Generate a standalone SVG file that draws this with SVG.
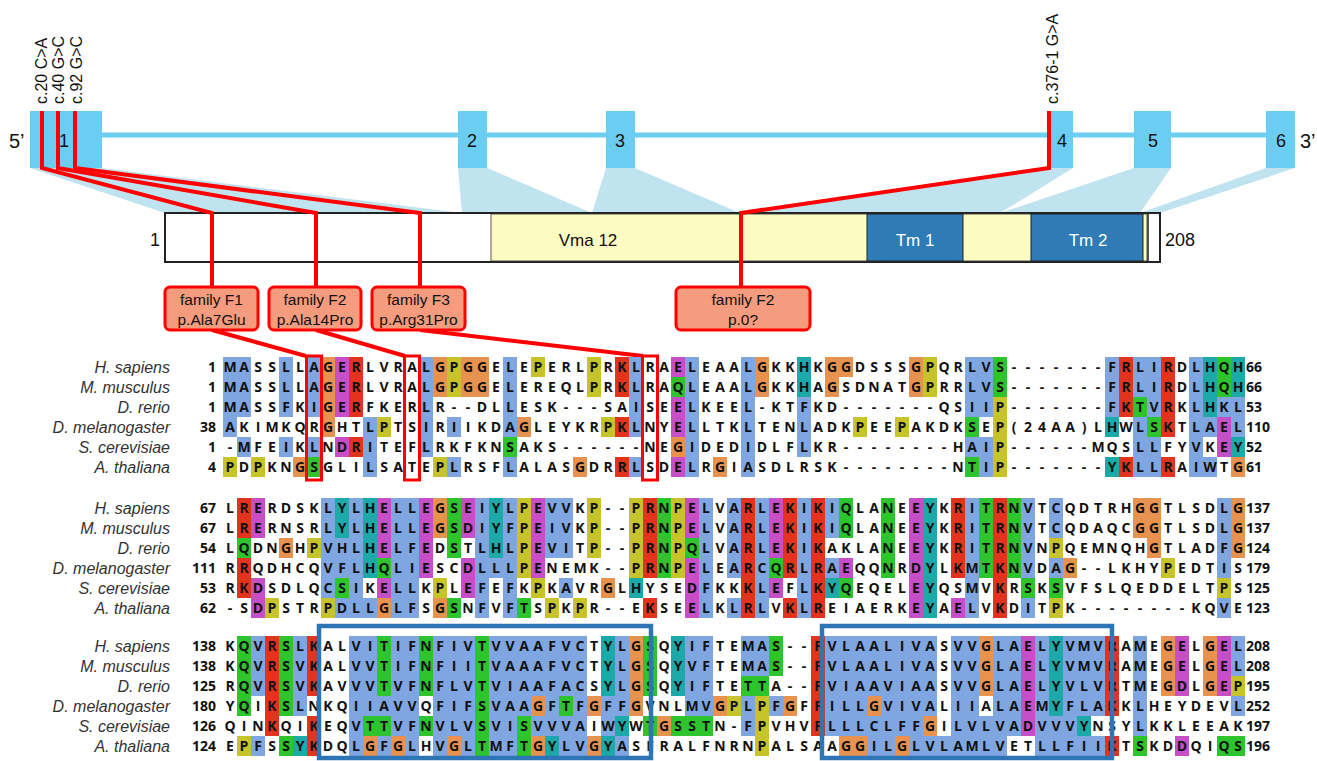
<svg xmlns="http://www.w3.org/2000/svg" width="1317" height="761" viewBox="0 0 1317 761">
<style>
.lbl{font-family:"Liberation Sans",Arial,sans-serif;fill:#111}
.res{font-family:"Open Sans","DejaVu Sans",sans-serif;font-weight:700;font-size:14px;text-anchor:middle;fill:#111}
.nl{font-family:"Open Sans","DejaVu Sans",sans-serif;font-weight:700;font-size:14px;text-anchor:end;fill:#111}
.nr{font-family:"Open Sans","DejaVu Sans",sans-serif;font-weight:700;font-size:14px;text-anchor:start;fill:#111}
.sp{font-family:"Liberation Sans",Arial,sans-serif;font-style:italic;font-size:16px;text-anchor:end;fill:#333}
.B{fill:#80a6e2}.R{fill:#e2331f}.M{fill:#c64ec6}.G{fill:#2ec42e}.O{fill:#e8924f}.Y{fill:#c6c42a}.C{fill:#1ea9a9}
.exon{fill:#6ccdf2}
.wedge{fill:#bfe3ef}
.red{fill:none;stroke:#ff0000;stroke-width:4}
.fam{fill:#f59c7e;stroke:#ff0000;stroke-width:3}
.rbox{fill:none;stroke:#ff0000;stroke-width:3}
.bbox{fill:none;stroke:#2e75b6;stroke-width:4.5}
</style>

<g id="gene">
<polygon class="wedge" points="30,168 102,168 462,213 165,213"/>
<polygon class="wedge" points="458,168 487,168 592,213 462,213"/>
<polygon class="wedge" points="606,168 635,168 740,213 592,213"/>
<polygon class="wedge" points="1050,168 1073,168 1000,213 740,213"/>
<polygon class="wedge" points="1134,168 1171,168 1140,213 1000,213"/>
<polygon class="wedge" points="1266,168 1295,168 1160,213 1140,213"/>
<line x1="100" y1="135" x2="1268" y2="135" stroke="#6ccdf2" stroke-width="5"/>
<rect class="exon" x="30" y="111" width="72" height="57"/>
<rect class="exon" x="458" y="111" width="29" height="57"/>
<rect class="exon" x="606" y="111" width="29" height="57"/>
<rect class="exon" x="1050" y="111" width="23" height="57"/>
<rect class="exon" x="1134" y="111" width="37" height="57"/>
<rect class="exon" x="1266" y="111" width="29" height="57"/>
<g class="lbl" font-size="18" text-anchor="middle">
<text x="64" y="147">1</text><text x="472" y="147">2</text><text x="620" y="147">3</text>
<text x="1062" y="147">4</text><text x="1153" y="147">5</text><text x="1281" y="147">6</text>
</g>
<text class="lbl" x="9" y="148" font-size="20">5’</text>
<text class="lbl" x="1300" y="148" font-size="20">3’</text>
</g>

<g id="protein">
<rect x="165" y="213" width="995" height="49" fill="#fff" stroke="#222" stroke-width="2"/>
<rect x="491" y="214" width="656" height="47" fill="#fcfbc2" stroke="#333" stroke-width="0.8"/>
<rect x="867" y="214" width="96" height="47" fill="#2e7bb6" stroke="#222" stroke-width="1"/>
<rect x="1031" y="214" width="112" height="47" fill="#2e7bb6" stroke="#222" stroke-width="1"/>
<line x1="1148" y1="214" x2="1148" y2="261" stroke="#222" stroke-width="1.5"/>
<text class="lbl" x="588" y="246" font-size="17" text-anchor="middle">Vma 12</text>
<text class="lbl" x="915" y="246" font-size="17" text-anchor="middle" style="fill:#fff">Tm 1</text>
<text class="lbl" x="1088" y="246" font-size="17" text-anchor="middle" style="fill:#fff">Tm 2</text>
<text class="lbl" x="160" y="246" font-size="18" text-anchor="end">1</text>
<text class="lbl" x="1165" y="246" font-size="18">208</text>
</g>

<g id="connectors">
<path class="red" d="M42 111V168L212 213V287"/>
<path class="red" d="M58 111V168L316 213V287"/>
<path class="red" d="M75 111V168L420 213V287"/>
<path class="red" d="M1049 111V168L741 213V287"/>
<path class="red" d="M212 330L306 356"/>
<path class="red" d="M316 330L405 356"/>
<path class="red" d="M420 330L643 356"/>
</g>

<g id="mutations" class="lbl" font-size="16">
<text transform="translate(47,104) rotate(-90)">c.20 C&gt;A</text>
<text transform="translate(64,104) rotate(-90)">c.40 G&gt;C</text>
<text transform="translate(82,104) rotate(-90)">c.92 G&gt;C</text>
<text transform="translate(1058,104) rotate(-90)">c.376-1 G&gt;A</text>
</g>

<g id="family-F1"><rect class="fam" x="165" y="287" width="93" height="43" rx="5"/>
<text class="lbl" x="211.5" y="305" font-size="15.5" text-anchor="middle">family F1</text>
<text class="lbl" x="211.5" y="325" font-size="15.5" text-anchor="middle">p.Ala7Glu</text></g>
<g id="family-F2a"><rect class="fam" x="269" y="287" width="92" height="43" rx="5"/>
<text class="lbl" x="315" y="305" font-size="15.5" text-anchor="middle">family F2</text>
<text class="lbl" x="315" y="325" font-size="15.5" text-anchor="middle">p.Ala14Pro</text></g>
<g id="family-F3"><rect class="fam" x="372" y="287" width="93" height="43" rx="5"/>
<text class="lbl" x="418.5" y="305" font-size="15.5" text-anchor="middle">family F3</text>
<text class="lbl" x="418.5" y="325" font-size="15.5" text-anchor="middle">p.Arg31Pro</text></g>
<g id="family-F2b"><rect class="fam" x="676" y="287" width="134" height="43" rx="5"/>
<text class="lbl" x="743" y="305" font-size="15.5" text-anchor="middle">family F2</text>
<text class="lbl" x="743" y="325" font-size="15.5" text-anchor="middle">p.0?</text></g>

<g id="species">
<text class="sp" x="170" y="373">H. sapiens</text><text class="sp" x="170" y="393">M. musculus</text><text class="sp" x="170" y="413">D. rerio</text><text class="sp" x="170" y="433">D. melanogaster</text><text class="sp" x="170" y="453">S. cerevisiae</text><text class="sp" x="170" y="473">A. thaliana</text>
<text class="sp" x="170" y="514">H. sapiens</text><text class="sp" x="170" y="534">M. musculus</text><text class="sp" x="170" y="554">D. rerio</text><text class="sp" x="170" y="574">D. melanogaster</text><text class="sp" x="170" y="594">S. cerevisiae</text><text class="sp" x="170" y="614">A. thaliana</text>
<text class="sp" x="170" y="652">H. sapiens</text><text class="sp" x="170" y="672">M. musculus</text><text class="sp" x="170" y="692">D. rerio</text><text class="sp" x="170" y="712">D. melanogaster</text><text class="sp" x="170" y="732">S. cerevisiae</text><text class="sp" x="170" y="752">A. thaliana</text>
</g>

<g id="block1-cells" transform="translate(223,357) scale(14,20)">
<path class="B" d="M0 0h1v4h-1zM1 0h1v3h-1zM1 4h1v1h-1zM4 0h1v3h-1zM4 4h1v1h-1zM6 0h1v3h-1zM6 4h1v1h-1zM10 3h1v3h-1zM14 0h1v5h-1zM16 3h1v1h-1zM16 5h1v1h-1zM20 0h1v4h-1zM20 5h1v1h-1zM29 0h1v4h-1zM29 5h1v1h-1zM33 0h1v6h-1zM37 0h1v6h-1zM41 2h1v3h-1zM53 0h1v3h-1zM53 4h1v1h-1zM54 0h1v3h-1zM54 4h1v2h-1zM63 0h1v3h-1zM65 0h1v2h-1zM65 3h1v3h-1zM66 0h1v3h-1zM66 4h1v2h-1zM69 0h1v6h-1zM70 3h1v1h-1zM70 5h1v1h-1zM71 2h1v1h-1zM72 2h1v2h-1z"/>
<path class="R" d="M9 0h1v3h-1zM9 4h1v1h-1zM28 0h1v2h-1zM28 3h1v1h-1zM28 5h1v1h-1zM64 0h1v3h-1zM64 5h1v1h-1zM67 0h1v4h-1zM67 5h1v1h-1z"/>
<path class="M" d="M8 0h1v3h-1zM8 4h1v1h-1zM32 0h1v1h-1zM32 2h1v2h-1zM32 5h1v1h-1zM71 3h1v2h-1z"/>
<path class="G" d="M6 5h1v1h-1zM20 4h1v1h-1zM32 1h1v1h-1zM53 3h1v1h-1zM53 5h1v1h-1zM55 0h1v2h-1zM65 2h1v1h-1zM66 3h1v1h-1zM71 0h1v2h-1z"/>
<path class="O" d="M5 5h1v1h-1zM7 0h1v4h-1zM15 0h1v2h-1zM17 0h1v2h-1zM18 0h1v2h-1zM21 3h1v1h-1zM25 5h1v1h-1zM32 4h1v1h-1zM35 5h1v1h-1zM38 0h1v2h-1zM43 0h1v2h-1zM44 0h1v1h-1zM49 0h1v2h-1zM72 5h1v1h-1z"/>
<path class="Y" d="M0 5h1v1h-1zM2 5h1v1h-1zM11 3h1v1h-1zM15 5h1v1h-1zM16 0h1v2h-1zM22 0h1v1h-1zM26 0h1v2h-1zM27 3h1v1h-1zM45 3h1v1h-1zM48 3h1v1h-1zM50 0h1v2h-1zM55 2h1v4h-1z"/>
<path class="C" d="M41 0h1v2h-1zM63 3h1v1h-1zM63 5h1v1h-1zM70 0h1v3h-1zM72 0h1v2h-1zM72 4h1v1h-1z"/>
</g>

<g id="block2-cells" transform="translate(223,498) scale(14,20)">
<path class="B" d="M7 0h1v5h-1zM8 2h1v2h-1zM8 5h1v1h-1zM9 0h1v6h-1zM10 5h1v1h-1zM12 0h1v6h-1zM13 0h1v6h-1zM18 0h1v6h-1zM19 3h1v1h-1zM20 0h1v6h-1zM23 0h1v3h-1zM24 0h1v3h-1zM24 4h1v1h-1zM34 0h1v6h-1zM36 0h1v4h-1zM36 5h1v1h-1zM38 0h1v6h-1zM41 0h1v6h-1zM43 0h1v2h-1zM43 3h1v1h-1zM53 0h1v6h-1zM57 0h1v4h-1zM57 5h1v1h-1zM59 0h1v2h-1zM59 3h1v1h-1zM71 0h1v4h-1zM71 5h1v1h-1z"/>
<path class="R" d="M1 0h1v2h-1zM1 3h1v2h-1zM30 0h1v4h-1zM30 5h1v1h-1zM37 0h1v6h-1zM40 0h1v4h-1zM40 5h1v1h-1zM42 0h1v6h-1zM52 0h1v4h-1zM55 0h1v6h-1z"/>
<path class="M" d="M2 0h1v2h-1zM2 4h1v2h-1zM11 0h1v3h-1zM11 4h1v1h-1zM14 0h1v4h-1zM17 0h1v2h-1zM17 3h1v2h-1zM22 0h1v4h-1zM33 0h1v2h-1zM33 3h1v3h-1zM39 0h1v3h-1zM39 4h1v1h-1zM44 3h1v1h-1zM49 0h1v6h-1zM52 5h1v1h-1z"/>
<path class="G" d="M1 2h1v1h-1zM8 4h1v1h-1zM11 3h1v1h-1zM16 0h1v3h-1zM16 5h1v1h-1zM21 5h1v1h-1zM31 0h1v4h-1zM33 2h1v1h-1zM39 3h1v1h-1zM44 0h1v2h-1zM44 4h1v1h-1zM47 0h1v4h-1zM54 0h1v4h-1zM56 0h1v4h-1zM57 4h1v1h-1zM59 4h1v1h-1z"/>
<path class="O" d="M4 2h1v1h-1zM11 5h1v1h-1zM15 0h1v2h-1zM15 5h1v1h-1zM27 4h1v1h-1zM60 3h1v1h-1zM65 0h1v2h-1zM66 0h1v3h-1zM72 0h1v3h-1z"/>
<path class="Y" d="M3 5h1v1h-1zM6 2h1v1h-1zM7 5h1v1h-1zM15 4h1v1h-1zM21 0h1v4h-1zM22 4h1v1h-1zM23 5h1v1h-1zM25 5h1v1h-1zM26 0h1v3h-1zM29 0h1v4h-1zM32 0h1v4h-1zM59 2h1v1h-1zM59 5h1v1h-1zM67 3h1v1h-1zM71 4h1v1h-1z"/>
<path class="C" d="M8 0h1v2h-1zM10 0h1v4h-1zM19 0h1v3h-1zM29 4h1v1h-1zM43 4h1v1h-1zM50 0h1v6h-1z"/>
</g>

<g id="block3-cells" transform="translate(223,636) scale(14,20)">
<path class="B" d="M2 0h1v3h-1zM2 5h1v1h-1zM5 0h1v4h-1zM9 0h1v6h-1zM10 0h1v4h-1zM11 3h1v1h-1zM11 5h1v1h-1zM12 0h1v5h-1zM13 0h1v6h-1zM15 0h1v6h-1zM16 0h1v5h-1zM17 0h1v6h-1zM19 0h1v6h-1zM20 0h1v6h-1zM21 0h1v4h-1zM22 0h1v3h-1zM22 4h1v1h-1zM23 0h1v5h-1zM24 0h1v3h-1zM24 4h1v2h-1zM25 0h1v6h-1zM27 3h1v2h-1zM28 0h1v4h-1zM28 5h1v1h-1zM33 0h1v4h-1zM34 0h1v4h-1zM37 0h1v2h-1zM37 3h1v2h-1zM38 0h1v2h-1zM39 3h1v1h-1zM43 0h1v5h-1zM44 0h1v5h-1zM45 0h1v5h-1zM46 0h1v3h-1zM46 4h1v2h-1zM47 0h1v6h-1zM48 0h1v5h-1zM49 0h1v6h-1zM50 0h1v4h-1zM50 5h1v1h-1zM51 5h1v1h-1zM52 0h1v6h-1zM53 0h1v6h-1zM54 4h1v2h-1zM55 0h1v6h-1zM56 0h1v5h-1zM58 0h1v6h-1zM59 4h1v2h-1zM60 0h1v6h-1zM61 0h1v4h-1zM61 5h1v1h-1zM62 0h1v4h-1zM62 5h1v1h-1zM65 0h1v5h-1zM72 0h1v2h-1zM72 3h1v1h-1z"/>
<path class="R" d="M3 0h1v5h-1zM6 0h1v3h-1zM6 4h1v2h-1zM42 0h1v5h-1zM63 0h1v4h-1zM63 5h1v1h-1z"/>
<path class="M" d="M57 0h1v5h-1zM68 0h1v3h-1zM68 5h1v1h-1zM71 0h1v3h-1z"/>
<path class="G" d="M1 0h1v4h-1zM4 0h1v4h-1zM4 5h1v1h-1zM10 4h1v1h-1zM11 0h1v3h-1zM11 4h1v1h-1zM14 0h1v3h-1zM14 4h1v1h-1zM18 0h1v6h-1zM21 4h1v2h-1zM24 3h1v1h-1zM30 0h1v3h-1zM30 4h1v1h-1zM32 4h1v1h-1zM33 4h1v1h-1zM34 4h1v1h-1zM37 2h1v1h-1zM38 2h1v1h-1zM39 0h1v2h-1zM65 5h1v1h-1zM71 5h1v1h-1zM72 5h1v1h-1z"/>
<path class="O" d="M10 5h1v1h-1zM12 5h1v1h-1zM16 5h1v1h-1zM22 3h1v1h-1zM22 5h1v1h-1zM26 3h1v1h-1zM26 5h1v1h-1zM29 0h1v4h-1zM31 4h1v1h-1zM35 3h1v1h-1zM40 3h1v1h-1zM44 5h1v1h-1zM45 5h1v1h-1zM46 3h1v1h-1zM48 5h1v1h-1zM50 4h1v1h-1zM54 0h1v3h-1zM67 0h1v3h-1zM70 0h1v3h-1z"/>
<path class="Y" d="M1 5h1v1h-1zM36 3h1v1h-1zM38 3h1v3h-1zM72 2h1v1h-1z"/>
<path class="C" d="M5 5h1v1h-1zM23 5h1v1h-1zM27 0h1v3h-1zM27 5h1v1h-1zM28 4h1v1h-1zM32 0h1v3h-1zM59 0h1v4h-1zM61 4h1v1h-1z"/>
</g>

<g id="block1-text">
<text class="res" y="372" x="230 244 258 272 286 300 314 328 342 356 370 384 398 412 426 440 454 468 482 496 510 524 538 552 566 580 594 608 622 636 650 664 678 692 706 720 734 748 762 776 790 804 818 832 846 860 874 888 902 916 930 944 958 972 986 1000 1014 1028 1042 1056 1070 1084 1098 1112 1126 1140 1154 1168 1182 1196 1210 1224 1238">MASSLLAGERLVRALGPGGELEPERLPRKLRAELEAALGKKHKGGDSSSGPQRLVS-------FRLIRDLHQH</text>
<text class="res" y="392" x="230 244 258 272 286 300 314 328 342 356 370 384 398 412 426 440 454 468 482 496 510 524 538 552 566 580 594 608 622 636 650 664 678 692 706 720 734 748 762 776 790 804 818 832 846 860 874 888 902 916 930 944 958 972 986 1000 1014 1028 1042 1056 1070 1084 1098 1112 1126 1140 1154 1168 1182 1196 1210 1224 1238">MASSLLAGERLVRALGPGGELEREQLPRKLRAQLEAALGKKHAGSDNATGPRRLVS-------FRLIRDLHQH</text>
<text class="res" y="412" x="230 244 258 272 286 300 314 328 342 356 370 384 398 412 426 440 454 468 482 496 510 524 538 552 566 580 594 608 622 636 650 664 678 692 706 720 734 748 762 776 790 804 818 832 846 860 874 888 902 916 930 944 958 972 986 1000 1014 1028 1042 1056 1070 1084 1098 1112 1126 1140 1154 1168 1182 1196 1210 1224 1238">MASSFKIGERFKERLR--DLLESK---SAISEELKEEL-KTFKD-------QSIIP-------FKTVRKLHKL</text>
<text class="res" y="432" x="230 244 258 272 286 300 314 328 342 356 370 384 398 412 426 440 454 468 482 496 510 524 538 552 566 580 594 608 622 636 650 664 678 692 706 720 734 748 762 776 790 804 818 832 846 860 874 888 902 916 930 944 958 972 986 1000 1014 1028 1042 1056 1070 1084 1098 1112 1126 1140 1154 1168 1182 1196 1210 1224 1238">AKIMKQRGHTLPTSIRIIKDAGLEYKRPKLNYELLTKLTENLADKPEEPAKDKSEP(24AA)LHWLSKTLAEL</text>
<text class="res" y="452" x="230 244 258 272 286 300 314 328 342 356 370 384 398 412 426 440 454 468 482 496 510 524 538 552 566 580 594 608 622 636 650 664 678 692 706 720 734 748 762 776 790 804 818 832 846 860 874 888 902 916 930 944 958 972 986 1000 1014 1028 1042 1056 1070 1084 1098 1112 1126 1140 1154 1168 1182 1196 1210 1224 1238">-MFEIKLNDRITEFLRKFKNSAKS------NEGIDEDIDLFLKR--------HAIP------MQSLLFYVKEY</text>
<text class="res" y="472" x="230 244 258 272 286 300 314 328 342 356 370 384 398 412 426 440 454 468 482 496 510 524 538 552 566 580 594 608 622 636 650 664 678 692 706 720 734 748 762 776 790 804 818 832 846 860 874 888 902 916 930 944 958 972 986 1000 1014 1028 1042 1056 1070 1084 1098 1112 1126 1140 1154 1168 1182 1196 1210 1224 1238">PDPKNGSGLILSATEPLRSFLALASGDRRLSDELRGIASDLRSK--------NTIP-------YKLLRAIWTG</text>
<text class="nl" x="216" y="372">1</text><text class="nl" x="216" y="392">1</text><text class="nl" x="216" y="412">1</text><text class="nl" x="216" y="432">38</text><text class="nl" x="216" y="452">1</text><text class="nl" x="216" y="472">4</text>
<text class="nr" x="1246" y="372">66</text><text class="nr" x="1246" y="392">66</text><text class="nr" x="1246" y="412">53</text><text class="nr" x="1246" y="432">110</text><text class="nr" x="1246" y="452">52</text><text class="nr" x="1246" y="472">61</text>
</g>

<g id="block2-text">
<text class="res" y="513" x="230 244 258 272 286 300 314 328 342 356 370 384 398 412 426 440 454 468 482 496 510 524 538 552 566 580 594 608 622 636 650 664 678 692 706 720 734 748 762 776 790 804 818 832 846 860 874 888 902 916 930 944 958 972 986 1000 1014 1028 1042 1056 1070 1084 1098 1112 1126 1140 1154 1168 1182 1196 1210 1224 1238">LRERDSKLYLHELLEGSEIYLPEVVKP--PRNPELVARLEKIKIQLANEEYKRITRNVTCQDTRHGGTLSDLG</text>
<text class="res" y="533" x="230 244 258 272 286 300 314 328 342 356 370 384 398 412 426 440 454 468 482 496 510 524 538 552 566 580 594 608 622 636 650 664 678 692 706 720 734 748 762 776 790 804 818 832 846 860 874 888 902 916 930 944 958 972 986 1000 1014 1028 1042 1056 1070 1084 1098 1112 1126 1140 1154 1168 1182 1196 1210 1224 1238">LRERNSRLYLHELLEGSDIYFPEIVKP--PRNPELVARLEKIKIQLANEEYKRITRNVTCQDAQCGGTLSDLG</text>
<text class="res" y="553" x="230 244 258 272 286 300 314 328 342 356 370 384 398 412 426 440 454 468 482 496 510 524 538 552 566 580 594 608 622 636 650 664 678 692 706 720 734 748 762 776 790 804 818 832 846 860 874 888 902 916 930 944 958 972 986 1000 1014 1028 1042 1056 1070 1084 1098 1112 1126 1140 1154 1168 1182 1196 1210 1224 1238">LQDNGHPVHLHELFEDSTLHLPEVITP--PRNPQLVARLEKIKAKLANEEYKRITRNVNPQEMNQHGTLADFG</text>
<text class="res" y="573" x="230 244 258 272 286 300 314 328 342 356 370 384 398 412 426 440 454 468 482 496 510 524 538 552 566 580 594 608 622 636 650 664 678 692 706 720 734 748 762 776 790 804 818 832 846 860 874 888 902 916 930 944 958 972 986 1000 1014 1028 1042 1056 1070 1084 1098 1112 1126 1140 1154 1168 1182 1196 1210 1224 1238">RRQDHCQVFLHQLIESCDLLLPENEMK--PRNPELEARCQRLRAEQQNRDYLKMTKNVDAG--LKHYPEDTIS</text>
<text class="res" y="593" x="230 244 258 272 286 300 314 328 342 356 370 384 398 412 426 440 454 468 482 496 510 524 538 552 566 580 594 608 622 636 650 664 678 692 706 720 734 748 762 776 790 804 818 832 846 860 874 888 902 916 930 944 958 972 986 1000 1014 1028 1042 1056 1070 1084 1098 1112 1126 1140 1154 1168 1182 1196 1210 1224 1238">RKDSDLQCSIKELLKPLEFEFKPKAVRGLHYSEDFKKKLEFLKYQEQELEYQSMVKRSKSVFSLQEDDELTPS</text>
<text class="res" y="613" x="230 244 258 272 286 300 314 328 342 356 370 384 398 412 426 440 454 468 482 496 510 524 538 552 566 580 594 608 622 636 650 664 678 692 706 720 734 748 762 776 790 804 818 832 846 860 874 888 902 916 930 944 958 972 986 1000 1014 1028 1042 1056 1070 1084 1098 1112 1126 1140 1154 1168 1182 1196 1210 1224 1238">-SDPSTRPDLLGLFSGSNFVFTSPKPR--EKSEELKLRLVKLREIAERKEYAELVKDITPK--------KQVE</text>
<text class="nl" x="216" y="513">67</text><text class="nl" x="216" y="533">67</text><text class="nl" x="216" y="553">54</text><text class="nl" x="216" y="573">111</text><text class="nl" x="216" y="593">53</text><text class="nl" x="216" y="613">62</text>
<text class="nr" x="1246" y="513">137</text><text class="nr" x="1246" y="533">137</text><text class="nr" x="1246" y="553">124</text><text class="nr" x="1246" y="573">179</text><text class="nr" x="1246" y="593">125</text><text class="nr" x="1246" y="613">123</text>
</g>

<g id="block3-text">
<text class="res" y="651" x="230 244 258 272 286 300 314 328 342 356 370 384 398 412 426 440 454 468 482 496 510 524 538 552 566 580 594 608 622 636 650 664 678 692 706 720 734 748 762 776 790 804 818 832 846 860 874 888 902 916 930 944 958 972 986 1000 1014 1028 1042 1056 1070 1084 1098 1112 1126 1140 1154 1168 1182 1196 1210 1224 1238">KQVRSLKALVITIFNFIVTVVAAFVCTYLGSQYIFTEMAS--FVLAALIVASVVGLAELYVMVRAMEGELGEL</text>
<text class="res" y="671" x="230 244 258 272 286 300 314 328 342 356 370 384 398 412 426 440 454 468 482 496 510 524 538 552 566 580 594 608 622 636 650 664 678 692 706 720 734 748 762 776 790 804 818 832 846 860 874 888 902 916 930 944 958 972 986 1000 1014 1028 1042 1056 1070 1084 1098 1112 1126 1140 1154 1168 1182 1196 1210 1224 1238">KQVRSVKALVVTIFNFIITVAAAFVCTYLGSQYVFTEMAS--FVLAALIVASVVGLAELYVMVRAMEGELGEL</text>
<text class="res" y="691" x="230 244 258 272 286 300 314 328 342 356 370 384 398 412 426 440 454 468 482 496 510 524 538 552 566 580 594 608 622 636 650 664 678 692 706 720 734 748 762 776 790 804 818 832 846 860 874 888 902 916 930 944 958 972 986 1000 1014 1028 1042 1056 1070 1084 1098 1112 1126 1140 1154 1168 1182 1196 1210 1224 1238">RQVRSVKAVVVTVFNFLVTVIAAFACSYLGSQYIFTETTA--FVIAAVIAASVVGLAELYVLVRTMEGDLGEP</text>
<text class="res" y="711" x="230 244 258 272 286 300 314 328 342 356 370 384 398 412 426 440 454 468 482 496 510 524 538 552 566 580 594 608 622 636 650 664 678 692 706 720 734 748 762 776 790 804 818 832 846 860 874 888 902 916 930 944 958 972 986 1000 1014 1028 1042 1056 1070 1084 1098 1112 1126 1140 1154 1168 1182 1196 1210 1224 1238">YQIKSLNKQIIAVVQFIFSVAAGFTFGFFGVNLMVGPLPFGFFILLGVIVALIIALAEMYFLAKKLHEYDEVL</text>
<text class="res" y="731" x="230 244 258 272 286 300 314 328 342 356 370 384 398 412 426 440 454 468 482 496 510 524 538 552 566 580 594 608 622 636 650 664 678 692 706 720 734 748 762 776 790 804 818 832 846 860 874 888 902 916 930 944 958 972 986 1000 1014 1028 1042 1056 1070 1084 1098 1112 1126 1140 1154 1168 1182 1196 1210 1224 1238">QINKQIKEQVTTVFNVLVSVISVVVAIWYWTGSSTN-FPVHVFLLLCLFFGILVLVADVVVYNSYLKKLEEAK</text>
<text class="res" y="751" x="230 244 258 272 286 300 314 328 342 356 370 384 398 412 426 440 454 468 482 496 510 524 538 552 566 580 594 608 622 636 650 664 678 692 706 720 734 748 762 776 790 804 818 832 846 860 874 888 902 916 930 944 958 972 986 1000 1014 1028 1042 1056 1070 1084 1098 1112 1126 1140 1154 1168 1182 1196 1210 1224 1238">EPFSSYKDQLGFGLHVGLTMFTGYLVGYASFRALFNRNPALSAAGGILGLVLAMLVETLLFIIKTSKDDQIQS</text>
<text class="nl" x="216" y="651">138</text><text class="nl" x="216" y="671">138</text><text class="nl" x="216" y="691">125</text><text class="nl" x="216" y="711">180</text><text class="nl" x="216" y="731">126</text><text class="nl" x="216" y="751">124</text>
<text class="nr" x="1246" y="651">208</text><text class="nr" x="1246" y="671">208</text><text class="nr" x="1246" y="691">195</text><text class="nr" x="1246" y="711">252</text><text class="nr" x="1246" y="731">197</text><text class="nr" x="1246" y="751">196</text>
</g>

<g id="highlights">
<rect class="rbox" x="306.5" y="356" width="15" height="124"/>
<rect class="rbox" x="404.5" y="356" width="15" height="124"/>
<rect class="rbox" x="642.5" y="356" width="15" height="124"/>
<rect class="bbox" x="319" y="626" width="332" height="132"/>
<rect class="bbox" x="822" y="626" width="290" height="132"/>
</g>
</svg>
